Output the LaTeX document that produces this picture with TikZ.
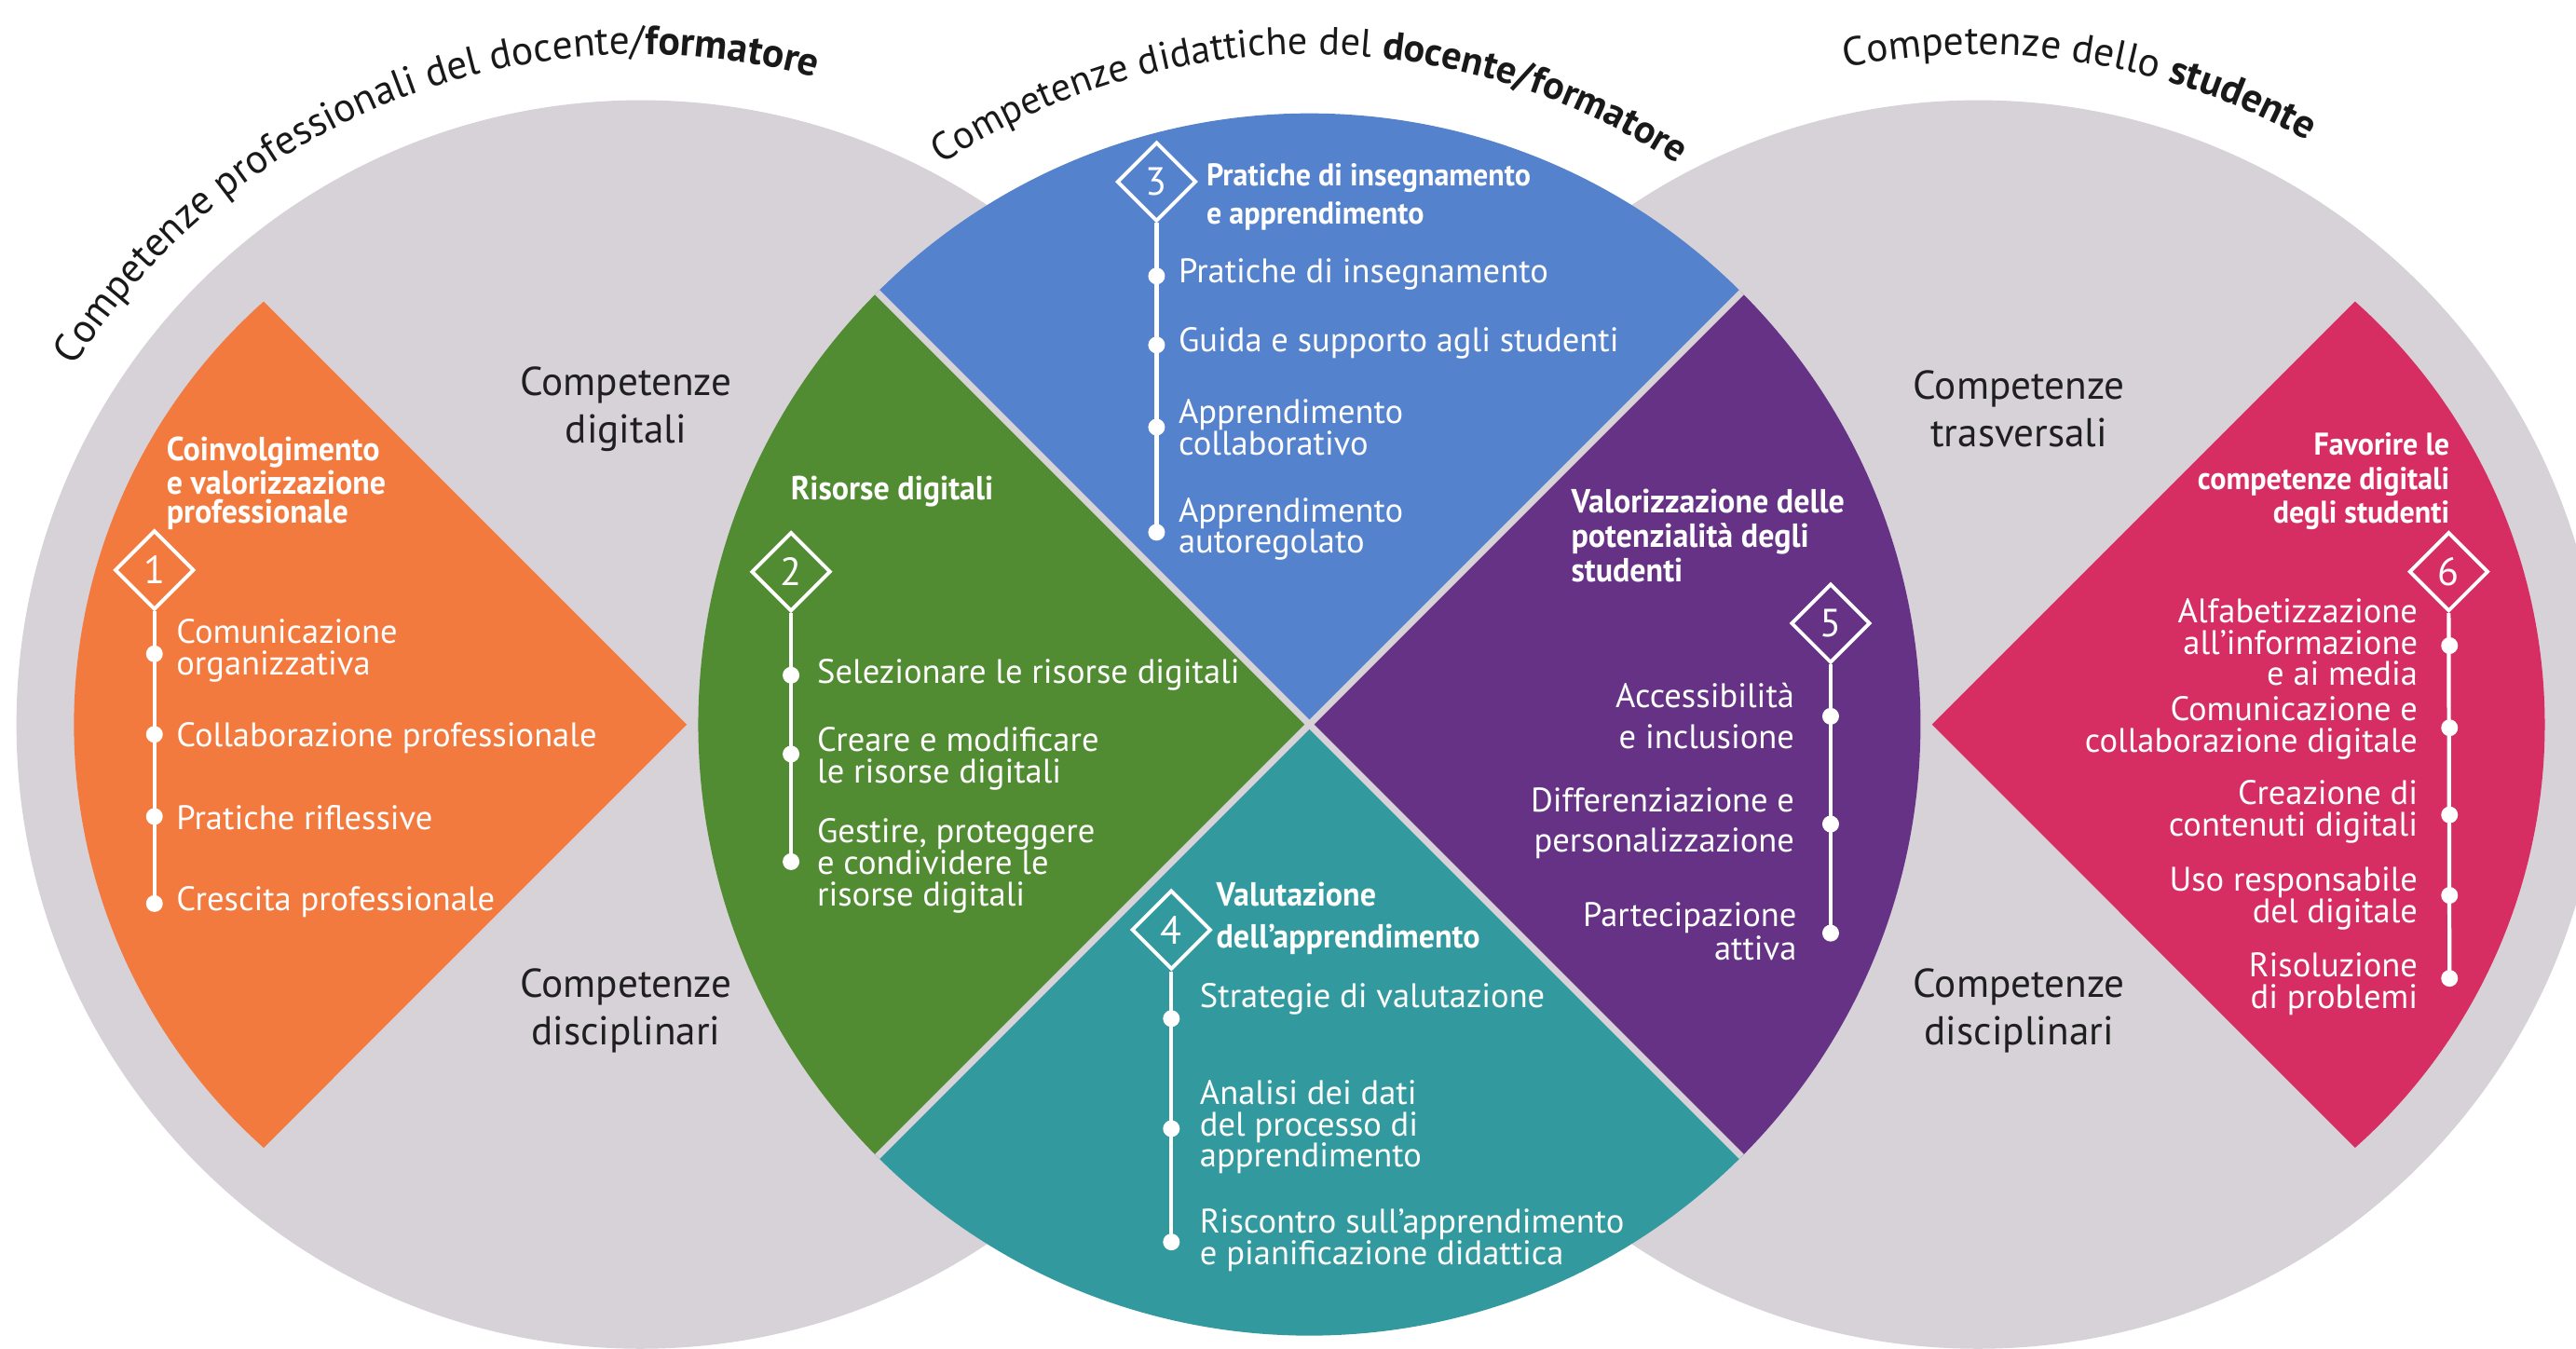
\documentclass[tikz,border=0pt]{standalone}
\usepackage{fontspec}
\setmainfont{PT Sans}
\newfontfamily\headfont{PT Sans}[FakeStretch=0.95]
\usetikzlibrary{shapes.geometric,decorations.text}
\definecolor{grigio}{RGB}{214,210,216}
\definecolor{arancio}{RGB}{243,122,62}
\definecolor{verde}{RGB}{82,140,50}
\definecolor{blu}{RGB}{84,130,205}
\definecolor{ottanio}{RGB}{50,154,158}
\definecolor{viola}{RGB}{102,50,134}
\definecolor{fucsia}{RGB}{214,46,99}
\begin{document}
\begin{tikzpicture}[x=0.017634cm, y=0.017634cm,
    puntino/.style={circle, fill=white, inner sep=0, minimum size=0.18cm},
    rombo/.style={diamond, draw=white, line width=1.1pt, inner sep=0, minimum size=0.85cm,
      text=white, font=\fontsize{12}{12}\selectfont},
    stelo/.style={white, line width=1.2pt},
    voce/.style={text=white, inner sep=0, font=\fontsize{10.4}{9.6}\selectfont},
    titolo/.style={text=white, inner sep=0, font=\headfont\bfseries\fontsize{10.2}{8.6}\selectfont},
    area/.style={text=black!88, inner sep=0, align=center, font=\fontsize{12.3}{14.5}\selectfont}]
  \useasboundingbox (0,0) rectangle (1568,-821);
  % cerchi grigi
  \fill[grigio] (390,-441) circle[radius=380];
  \fill[grigio] (1204,-441) circle[radius=380];
  \fill[arancio] (418,-441) -- (160.5,-183.5) arc[start angle=131.7, end angle=228.3, radius=345] -- cycle;
  \fill[fucsia] (1176,-441) -- (1433.5,-183.5) arc[start angle=48.3, end angle=-48.3, radius=345] -- cycle;
  % cerchio centrale
  \fill[blu] (797,-441) -- ++(135:372) arc[start angle=135, end angle=45, radius=372] -- cycle;
  \fill[verde] (797,-441) -- ++(135:372) arc[start angle=135, end angle=225, radius=372] -- cycle;
  \fill[ottanio] (797,-441) -- ++(225:372) arc[start angle=225, end angle=315, radius=372] -- cycle;
  \fill[viola] (797,-441) -- ++(315:372) arc[start angle=315, end angle=405, radius=372] -- cycle;
  \draw[grigio, line width=2pt] (797,-441) ++(135:372) -- ++(-45:744);
  \draw[grigio, line width=2pt] (797,-441) ++(45:372) -- ++(225:744);

  % titoli curvi
  \path[decorate, decoration={text along path, text align=center, text color=black!90,
      text={|\fontsize{12.4}{13}\selectfont|Competenze professionali del docente/|\fontsize{12.4}{13}\selectfont\bfseries|formatore}}]
    (390,-441) ++(165:408) arc[start angle=165, end angle=57.6, radius=408];
  \path[decorate, decoration={text along path, text align=center, text color=black!90,
      text={|\fontsize{12}{13}\selectfont|Competenze didattiche del |\fontsize{12}{13}\selectfont\bfseries|docente/formatore}}]
    (797,-441) ++(150:408) arc[start angle=150, end angle=30, radius=408];
  \path[decorate, decoration={text along path, text align=center, text color=black!90,
      text={|\fontsize{12.4}{13}\selectfont|Competenze dello |\fontsize{12.4}{13}\selectfont\bfseries|studente}}]
    (1204,-441) ++(130:408) arc[start angle=130, end angle=32, radius=408];

  % etichette grigie
  \node[area] (gA) at (381,-249) {Competenze\\digitali};
  \node[area] (gB) at (381,-615) {Competenze\\disciplinari};
  \node[area] (gC) at (1229,-249) {Competenze\\trasversali};
  \node[area] (gD) at (1229,-615) {Competenze\\disciplinari};

  % 1
  \node[titolo, anchor=west, align=left] (tA) at (101,-294) {Coinvolgimento\\e valorizzazione\\professionale};
  \node[rombo] (rA) at (94,-347) {1};
  \node[puntino] (a1) at (94,-398) {};
  \node[puntino] (a2) at (94,-447) {};
  \node[puntino] (a3) at (94,-497) {};
  \node[puntino] (a4) at (94,-550) {};
  \draw[stelo] (rA.south) -- (a4.center);
  \node[voce, anchor=west, align=left] (la1) at (107,-396) {Comunicazione\\organizzativa};
  \node[voce, anchor=west] (la2) at (107,-449) {Collaborazione professionale};
  \node[voce, anchor=west] (la3) at (107,-498) {Pratiche riflessive};
  \node[voce, anchor=west] (la4) at (107,-549) {Crescita professionale};

  % 2
  \node[titolo, anchor=west] (tB) at (481,-299) {Risorse digitali};
  \node[rombo] (rB) at (481.5,-348) {2};
  \node[puntino] (b1) at (481.5,-411) {};
  \node[puntino] (b2) at (481.5,-459) {};
  \node[puntino] (b3) at (481.5,-524.5) {};
  \draw[stelo] (rB.south) -- (b3.center);
  \node[voce, anchor=west] (lb1) at (497,-411) {Selezionare le risorse digitali};
  \node[voce, anchor=west, align=left] (lb2) at (497,-462) {Creare e modificare\\le risorse digitali};
  \node[voce, anchor=west, align=left] (lb3) at (497,-527) {Gestire, proteggere\\e condividere le\\risorse digitali};

  % 3
  \node[rombo] (rC) at (704,-110.6) {3};
  \node[titolo, anchor=west, align=left, font=\headfont\bfseries\fontsize{9.6}{11.8}\selectfont] (tC) at (734,-120) {Pratiche di insegnamento\\e apprendimento};
  \node[puntino] (c1) at (704,-168) {};
  \node[puntino] (c2) at (704,-210) {};
  \node[puntino] (c3) at (704,-260) {};
  \node[puntino] (c4) at (704,-324) {};
  \draw[stelo] (rC.south) -- (c4.center);
  \node[voce, anchor=west] (lc1) at (717,-167) {Pratiche di insegnamento};
  \node[voce, anchor=west] (lc2) at (717,-209) {Guida e supporto agli studenti};
  \node[voce, anchor=west, align=left] (lc3) at (717,-260) {Apprendimento\\collaborativo};
  \node[voce, anchor=west, align=left] (lc4) at (717,-322) {Apprendimento\\autoregolato};

  % 4
  \node[rombo] (rD) at (713,-566) {4};
  \node[titolo, anchor=west, align=left, font=\headfont\bfseries\fontsize{10.2}{12.6}\selectfont] (tD) at (740,-559) {Valutazione\\dell’apprendimento};
  \node[puntino] (d1) at (713,-620) {};
  \node[puntino] (d2) at (713,-687) {};
  \node[puntino] (d3) at (713,-756) {};
  \draw[stelo] (rD.south) -- (d3.center);
  \node[voce, anchor=west] (ld1) at (730,-608) {Strategie di valutazione};
  \node[voce, anchor=west, align=left] (ld2) at (730,-686) {Analisi dei dati\\del processo di\\apprendimento};
  \node[voce, anchor=west, align=left] (ld3) at (730,-755) {Riscontro sull’apprendimento\\e pianificazione didattica};

  % 5
  \node[titolo, anchor=west, align=left, font=\headfont\bfseries\fontsize{10.2}{10.6}\selectfont] (tE) at (956,-326) {Valorizzazione delle\\potenzialità degli\\studenti};
  \node[rombo] (rE) at (1114.3,-379.4) {5};
  \node[puntino] (e1) at (1114.3,-436) {};
  \node[puntino] (e2) at (1114.3,-501.6) {};
  \node[puntino] (e3) at (1114.3,-568) {};
  \draw[stelo] (rE.south) -- (e3.center);
  \node[voce, anchor=east, align=right, font=\fontsize{10.4}{12.4}\selectfont] (le1) at (1092.6,-436) {Accessibilità\\e inclusione};
  \node[voce, anchor=east, align=right, font=\fontsize{10.4}{12.2}\selectfont] (le2) at (1092.6,-501) {Differenziazione e\\personalizzazione};
  \node[voce, anchor=east, align=right, font=\fontsize{10.4}{10.4}\selectfont] (le3) at (1094,-567) {Partecipazione\\attiva};

  % 6
  \node[titolo, anchor=east, align=right, font=\headfont\bfseries\fontsize{9.6}{10.5}\selectfont] (tF) at (1491.4,-293) {Favorire le\\competenze digitali\\degli studenti};
  \node[rombo] (rF) at (1490.5,-348) {6};
  \node[puntino] (f1) at (1491,-393) {};
  \node[puntino] (f2) at (1491,-443) {};
  \node[puntino] (f3) at (1491,-496) {};
  \node[puntino] (f4) at (1491,-545) {};
  \node[puntino] (f5) at (1491,-595.5) {};
  \draw[stelo] (rF.south) -- (f5.center);
  \node[voce, anchor=east, align=right] (lf1) at (1472,-391) {Alfabetizzazione\\all’informazione\\e ai media};
  \node[voce, anchor=east, align=right] (lf2) at (1472,-443) {Comunicazione e\\collaborazione digitale};
  \node[voce, anchor=east, align=right] (lf3) at (1472,-494) {Creazione di\\contenuti digitali};
  \node[voce, anchor=east, align=right] (lf4) at (1472,-547) {Uso responsabile\\del digitale};
  \node[voce, anchor=east, align=right] (lf5) at (1472,-599) {Risoluzione\\di problemi};
\end{tikzpicture}
\end{document}
